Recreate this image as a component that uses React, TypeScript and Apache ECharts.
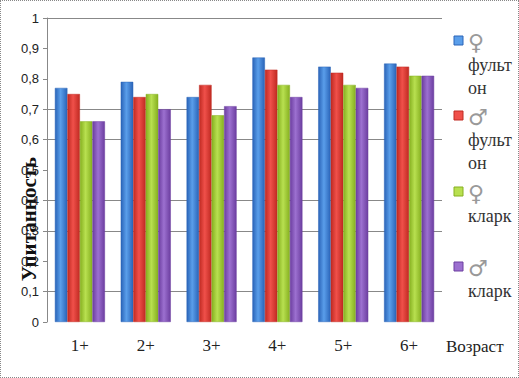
import React, { useEffect, useRef } from "react";
import * as echarts from "echarts";

const categories = ["1+", "2+", "3+", "4+", "5+", "6+"];
const femaleFulton = [0.77, 0.79, 0.74, 0.87, 0.84, 0.85];
const maleFulton = [0.75, 0.74, 0.78, 0.83, 0.82, 0.84];
const femaleClark = [0.66, 0.75, 0.68, 0.78, 0.78, 0.81];
const maleClark = [0.66, 0.7, 0.71, 0.74, 0.77, 0.81];
const seriesNames = ["♀ фульт он", "♂ фульт он", "♀ кларк", "♂ кларк"];
const legendLines = [["♀", "фульт", "он"], ["♂", "фульт", "он"], ["♀", "кларк"], ["♂", "кларк"]];
const yTickLabels = ["0", "0,1", "0,2", "0,3", "0,4", "0,5", "0,6", "0,7", "0,8", "0,9", "1"];

const colors = [
  ["#2a64b8", "#5a9eea", "#2a64b8"],
  ["#c02a22", "#f0504a", "#c02a22"],
  ["#86b020", "#b8e050", "#86b020"],
  ["#6c3ea0", "#9c70d0", "#6c3ea0"],
];

const serif = "'Liberation Serif', 'DejaVu Serif', serif";
const sans = "'Liberation Sans', Arial, sans-serif";

export default function App() {
  const ref = useRef<HTMLDivElement>(null);
  useEffect(() => {
    document.body.style.margin = "0";
    const chart = echarts.init(ref.current!, null, { renderer: "svg" });
    const data = [femaleFulton, maleFulton, femaleClark, maleClark];
    const legendY = [39, 114, 190, 265];
    const graphic: any[] = [];
    legendLines.forEach((lines, i) => {
      graphic.push({
        type: "rect",
        shape: { x: 453, y: legendY[i] - 4, width: 9, height: 9 },
        style: { fill: colors[i][1], stroke: colors[i][0], lineWidth: 1 },
      });
      lines.forEach((t, j) => {
        graphic.push({
          type: "text",
          x: 467,
          y: legendY[i] + 2 + j * 23,
          style: {
            text: t,
            fontFamily: j === 0 ? "'DejaVu Sans', sans-serif" : serif,
            fontSize: j === 0 ? 22 : 18,
            fill: j === 0 ? "#999" : "#333",
            verticalAlign: "middle",
            align: "left",
          },
        });
      });
    });
    graphic.push({
      type: "text",
      x: 445,
      y: 345,
      style: { text: "Возраст", fontFamily: serif, fontSize: 17, fill: "#222", verticalAlign: "middle" },
    });
    graphic.push({
      type: "text",
      x: 28,
      y: 218,
      rotation: Math.PI / 2,
      style: {
        text: "Упитанность",
        fontFamily: serif,
        fontSize: 21,
        fontWeight: "bold",
        fill: "#111",
        align: "center",
        verticalAlign: "middle",
      },
    });
    const gridColors = ["transparent", "#888", "transparent", "#888", "#888", "transparent", "#888", "#888", "transparent", "transparent", "#888"];
    chart.setOption({
      animation: false,
      grid: { left: 46, right: 76, top: 17, bottom: 55, containLabel: false, outerBoundsMode: "none" },
      xAxis: {
        type: "category",
        data: categories,
        axisLine: { show: false },
        axisTick: { show: false },
        axisLabel: { fontFamily: serif, fontSize: 17, color: "#222", margin: 15 },
      },
      yAxis: {
        type: "value",
        min: 0,
        max: 1,
        interval: 0.1,
        axisLine: { show: true, lineStyle: { color: "#888" } },
        axisTick: { show: true, length: 4, lineStyle: { color: "#888" } },
        splitLine: { show: true, lineStyle: { color: gridColors, width: 1 } },
        axisLabel: {
          fontFamily: sans,
          fontSize: 13,
          color: "#222",
          margin: 8,
          formatter: (v: number) => yTickLabels[Math.round(v * 10)],
        },
      },
      series: data.map((d, i) => ({
        name: seriesNames[i],
        type: "bar",
        data: d,
        barGap: "0%",
        barCategoryGap: "24%",
        itemStyle: {
          color: new echarts.graphic.LinearGradient(0, 0, 1, 0, [
            { offset: 0, color: colors[i][0] },
            { offset: 0.45, color: colors[i][1] },
            { offset: 1, color: colors[i][2] },
          ]),
          borderColor: colors[i][0],
          borderWidth: 0.5,
        },
      })),
      graphic,
    });
    return () => chart.dispose();
  }, []);
  return (
    <div
      ref={ref}
      style={{ width: 519, height: 378, boxSizing: "border-box", border: "1px dotted #888" }}
    />
  );
}
